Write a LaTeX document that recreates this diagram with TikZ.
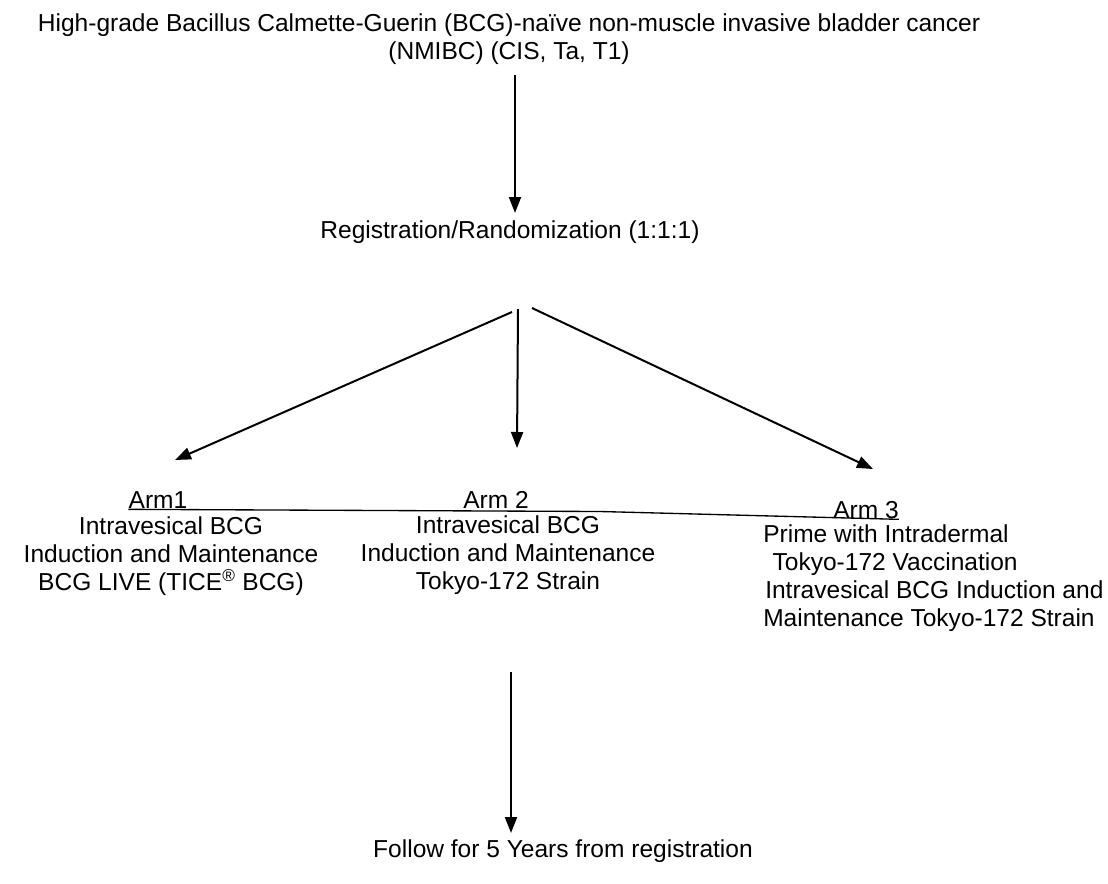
\documentclass[tikz,border=0pt]{standalone}
\usepackage{fontspec}
\setmainfont{Liberation Sans}
\usetikzlibrary{arrows.meta}
\begin{document}
\begin{tikzpicture}[x=0.75pt,y=-0.75pt,
  txt/.style={inner sep=0pt, font=\fontsize{18.4}{21}\selectfont, align=center},
  lbl/.style={inner sep=0pt, font=\fontsize{18.4}{21}\selectfont, anchor=base, text depth=0pt},
  arr/.style={line width=1.5pt, -{Triangle[length=12pt,width=9pt]}}]
\fill[white] (0,0) rectangle (1108,883);
\useasboundingbox (0,0) rectangle (1108,883);

\node[txt, anchor=north] (top) at (509,13) {High-grade Bacillus Calmette-Guerin (BCG)-naïve non-muscle invasive bladder cancer\\(NMIBC) (CIS, Ta, T1)};
\node[lbl] (reg) at (510,238) {Registration/Randomization (1:1:1)};

\node[lbl] (l1) at (158,508) {Arm1};
\node[lbl] (l2) at (496,508) {Arm 2};
\node[lbl] (l3) at (866,518) {Arm 3};

\node[txt, anchor=north] (arm1) at (171,516) {Intravesical BCG\\Induction and Maintenance\\BCG LIVE (TICE\textsuperscript{®} BCG)};
\node[txt, anchor=north] (arm2) at (508,515) {Intravesical BCG\\Induction and Maintenance\\Tokyo-172 Strain};
\node[txt, anchor=north west, align=left] (arm3) at (763,524) {Prime with Intradermal\\\hspace*{7pt}Tokyo-172 Vaccination\\\hspace*{1.5pt}Intravesical BCG Induction and\\Maintenance Tokyo-172 Strain};

\node[lbl] (fol) at (563,857) {Follow for 5 Years from registration};

\coordinate (a1s) at (515,75);
\coordinate (a1e) at (515,213);
\coordinate (bl) at (512,312);
\coordinate (bm) at (518,309);
\coordinate (br) at (532,308);
\coordinate (tl) at (175,460);
\coordinate (tm) at (517,448);
\coordinate (tr) at (873,469);
\coordinate (a2s) at (511,672);
\coordinate (a2e) at (511,833);
\coordinate (lm) at (600,511.5);

\draw[arr] (a1s) -- (a1e);
\draw[arr] (bl) -- (tl);
\draw[arr] (bm) -- (tm);
\draw[arr] (br) -- (tr);
\draw[arr] (a2s) -- (a2e);
\draw[line width=1pt] ([yshift=-1pt]l1.base west) -- (lm) -- ([yshift=-1pt]l3.base east);
\end{tikzpicture}
\end{document}
